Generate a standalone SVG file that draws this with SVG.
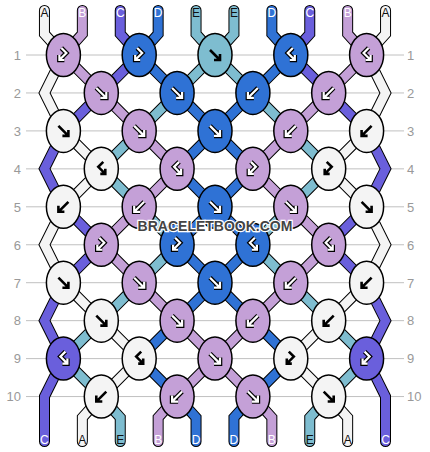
<svg xmlns="http://www.w3.org/2000/svg" xmlns:xlink="http://www.w3.org/1999/xlink" width="430" height="452" viewBox="0 0 430 452">
<style>
.grid line{stroke:#c0c0c0;stroke-width:1}
.rl{font-family:"Liberation Sans",Arial,sans-serif;font-size:13px;fill:#999}
.sl{font-family:"Liberation Sans",Arial,sans-serif;font-size:12px;text-anchor:middle}
.sl .w{fill:#fff}.sl .b{fill:#111}
.st{fill:none;stroke-linejoin:miter;stroke-linecap:round}
.o{stroke:#000;stroke-width:11}
.cA{stroke:#f4f4f4;stroke-width:9}.cB{stroke:#c4a0d7;stroke-width:9}.cC{stroke:#6a5fdc;stroke-width:9}.cD{stroke:#2f72d5;stroke-width:9}.cE{stroke:#7ebdd0;stroke-width:9}
.k{stroke:#000;stroke-width:1.5}
.kA{fill:#f4f4f4}.kB{fill:#c4a0d7}.kC{fill:#6a5fdc}.kD{fill:#2f72d5}.kE{fill:#7ebdd0}
.a1{fill:none;stroke:#000;stroke-width:4.6;stroke-linejoin:miter}
.a2{fill:none;stroke:#fff;stroke-width:2.2;stroke-linejoin:miter}
.ab{fill:none;stroke:#000;stroke-width:2.6;stroke-linejoin:miter}
.wm{font-family:"Liberation Sans",Arial,sans-serif;font-size:14px;font-weight:bold;fill:#444;stroke:#fff;stroke-width:2.5;paint-order:stroke;text-anchor:middle}
</style>
<defs>
<path id="pF" d="M-5,-5L5,5M-1,5H5V-1"/>
<path id="pB" d="M5,-5L-5,5M1,5H-5V-1"/>
<path id="pL" d="M2,-7L-3,-2L4,5M-1,5H4V0"/>
<path id="pR" d="M-2,-7L3,-2L-4,5M1,5H-4V0"/>
<g id="wF"><use href="#pF" class="a1"/><use href="#pF" class="a2"/></g>
<g id="wB"><use href="#pB" class="a1"/><use href="#pB" class="a2"/></g>
<g id="wL"><use href="#pL" class="a1"/><use href="#pL" class="a2"/></g>
<g id="wR"><use href="#pR" class="a1"/><use href="#pR" class="a2"/></g>
<use id="bF" href="#pF" class="ab"/>
<use id="bB" href="#pB" class="ab"/>
<use id="bL" href="#pL" class="ab"/>
<use id="bR" href="#pR" class="ab"/>
<path id="sA1" d="M44.45,10.5V34L63.4,55L44.5,92.95L63.4,130.9L101.3,168.85L63.4,206.8L44.5,244.75L63.4,282.7L101.3,320.65L139.2,358.6L101.3,396.55L82.35,417.5V441.5"/>
<path id="sB1" d="M82.35,10.5V34L63.4,55L101.3,92.95L139.2,130.9L177.1,168.85L139.2,206.8L101.3,244.75L139.2,282.7L177.1,320.65L215,358.6L252.9,396.55L271.85,417.5V441.5"/>
<path id="sC1" d="M120.25,10.5V34L139.2,55L101.3,92.95L63.4,130.9L44.5,168.85L63.4,206.8L101.3,244.75L63.4,282.7L44.5,320.65L63.4,358.6L44.5,396.55V441.5"/>
<path id="sD1" d="M158.15,10.5V34L139.2,55L177.1,92.95L215,130.9L252.9,168.85L215,206.8L177.1,244.75L215,282.7L252.9,320.65L290.8,358.6L252.9,396.55L233.95,417.5V441.5"/>
<path id="sE1" d="M196.05,10.5V34L215,55L252.9,92.95L290.8,130.9L328.7,168.85L290.8,206.8L252.9,244.75L290.8,282.7L328.7,320.65L366.6,358.6L328.7,396.55L309.75,417.5V441.5"/>
<path id="sE2" d="M233.95,10.5V34L215,55L177.1,92.95L139.2,130.9L101.3,168.85L139.2,206.8L177.1,244.75L139.2,282.7L101.3,320.65L63.4,358.6L101.3,396.55L120.25,417.5V441.5"/>
<path id="sD2" d="M271.85,10.5V34L290.8,55L252.9,92.95L215,130.9L177.1,168.85L215,206.8L252.9,244.75L215,282.7L177.1,320.65L139.2,358.6L177.1,396.55L196.05,417.5V441.5"/>
<path id="sC2" d="M309.75,10.5V34L290.8,55L328.7,92.95L366.6,130.9L385.5,168.85L366.6,206.8L328.7,244.75L366.6,282.7L385.5,320.65L366.6,358.6L385.5,396.55V441.5"/>
<path id="sB2" d="M347.65,10.5V34L366.6,55L328.7,92.95L290.8,130.9L252.9,168.85L290.8,206.8L328.7,244.75L290.8,282.7L252.9,320.65L215,358.6L177.1,396.55L158.15,417.5V441.5"/>
<path id="sA2" d="M385.55,10.5V34L366.6,55L385.5,92.95L366.6,130.9L328.7,168.85L366.6,206.8L385.5,244.75L366.6,282.7L328.7,320.65L290.8,358.6L328.7,396.55L347.65,417.5V441.5"/>
</defs>
<rect width="430" height="452" fill="#fff"/>
<g class="grid">
<line x1="26" y1="55" x2="404" y2="55"/>
<line x1="26" y1="92.95" x2="404" y2="92.95"/>
<line x1="26" y1="130.9" x2="404" y2="130.9"/>
<line x1="26" y1="168.85" x2="404" y2="168.85"/>
<line x1="26" y1="206.8" x2="404" y2="206.8"/>
<line x1="26" y1="244.75" x2="404" y2="244.75"/>
<line x1="26" y1="282.7" x2="404" y2="282.7"/>
<line x1="26" y1="320.65" x2="404" y2="320.65"/>
<line x1="26" y1="358.6" x2="404" y2="358.6"/>
<line x1="26" y1="396.55" x2="404" y2="396.55"/>
</g>
<g class="rl" text-anchor="end">
<text x="21" y="59.5">1</text><text x="21" y="97.5">2</text><text x="21" y="135.5">3</text><text x="21" y="173.5">4</text><text x="21" y="211.5">5</text><text x="21" y="249.5">6</text><text x="21" y="287.5">7</text><text x="21" y="325">8</text><text x="21" y="363">9</text><text x="21" y="401">10</text>
</g>
<g class="rl" text-anchor="start">
<text x="407" y="59.5">1</text><text x="407" y="97.5">2</text><text x="407" y="135.5">3</text><text x="407" y="173.5">4</text><text x="407" y="211.5">5</text><text x="407" y="249.5">6</text><text x="407" y="287.5">7</text><text x="407" y="325">8</text><text x="407" y="363">9</text><text x="407" y="401">10</text>
</g>
<g id="connectors" class="st">
<use href="#sA1" class="o"/><use href="#sB1" class="o"/><use href="#sC1" class="o"/><use href="#sD1" class="o"/><use href="#sE1" class="o"/>
<use href="#sE2" class="o"/><use href="#sD2" class="o"/><use href="#sC2" class="o"/><use href="#sB2" class="o"/><use href="#sA2" class="o"/>
<use href="#sA1" class="cA"/><use href="#sB1" class="cB"/><use href="#sC1" class="cC"/><use href="#sD1" class="cD"/><use href="#sE1" class="cE"/>
<use href="#sE2" class="cE"/><use href="#sD2" class="cD"/><use href="#sC2" class="cC"/><use href="#sB2" class="cB"/><use href="#sA2" class="cA"/>
</g>
<g class="sl">
<text x="44.45" y="16.5" class="b">A</text><text x="82.35" y="16.5" class="w">B</text><text x="120.25" y="16.5" class="w">C</text><text x="158.15" y="16.5" class="w">D</text><text x="196.05" y="16.5" class="b">E</text>
<text x="233.95" y="16.5" class="b">E</text><text x="271.85" y="16.5" class="w">D</text><text x="309.75" y="16.5" class="w">C</text><text x="347.65" y="16.5" class="w">B</text><text x="385.55" y="16.5" class="b">A</text>
<text x="44.45" y="444" class="w">C</text><text x="82.35" y="444" class="b">A</text><text x="120.25" y="444" class="b">E</text><text x="158.15" y="444" class="w">B</text><text x="196.05" y="444" class="w">D</text>
<text x="233.95" y="444" class="w">D</text><text x="271.85" y="444" class="w">B</text><text x="309.75" y="444" class="b">E</text><text x="347.65" y="444" class="b">A</text><text x="385.55" y="444" class="w">C</text>
</g>
<g id="k1-1" transform="translate(63.4,55)"><ellipse class="k kB" rx="17" ry="21.5"/><use href="#wR"/></g>
<g id="k1-2" transform="translate(139.2,55)"><ellipse class="k kD" rx="17" ry="21.5"/><use href="#wR"/></g>
<g id="k1-3" transform="translate(215,55)"><ellipse class="k kE" rx="17" ry="21.5"/><use href="#bF"/></g>
<g id="k1-4" transform="translate(290.8,55)"><ellipse class="k kD" rx="17" ry="21.5"/><use href="#wL"/></g>
<g id="k1-5" transform="translate(366.6,55)"><ellipse class="k kB" rx="17" ry="21.5"/><use href="#wL"/></g>
<g id="k2-1" transform="translate(101.3,92.95)"><ellipse class="k kB" rx="17" ry="21.5"/><use href="#wF"/></g>
<g id="k2-2" transform="translate(177.1,92.95)"><ellipse class="k kD" rx="17" ry="21.5"/><use href="#wF"/></g>
<g id="k2-3" transform="translate(252.9,92.95)"><ellipse class="k kD" rx="17" ry="21.5"/><use href="#wB"/></g>
<g id="k2-4" transform="translate(328.7,92.95)"><ellipse class="k kB" rx="17" ry="21.5"/><use href="#wB"/></g>
<g id="k3-1" transform="translate(63.4,130.9)"><ellipse class="k kA" rx="17" ry="21.5"/><use href="#bF"/></g>
<g id="k3-2" transform="translate(139.2,130.9)"><ellipse class="k kB" rx="17" ry="21.5"/><use href="#wF"/></g>
<g id="k3-3" transform="translate(215,130.9)"><ellipse class="k kD" rx="17" ry="21.5"/><use href="#wF"/></g>
<g id="k3-4" transform="translate(290.8,130.9)"><ellipse class="k kB" rx="17" ry="21.5"/><use href="#wB"/></g>
<g id="k3-5" transform="translate(366.6,130.9)"><ellipse class="k kA" rx="17" ry="21.5"/><use href="#bB"/></g>
<g id="k4-1" transform="translate(101.3,168.85)"><ellipse class="k kA" rx="17" ry="21.5"/><use href="#bL"/></g>
<g id="k4-2" transform="translate(177.1,168.85)"><ellipse class="k kB" rx="17" ry="21.5"/><use href="#wL"/></g>
<g id="k4-3" transform="translate(252.9,168.85)"><ellipse class="k kB" rx="17" ry="21.5"/><use href="#wR"/></g>
<g id="k4-4" transform="translate(328.7,168.85)"><ellipse class="k kA" rx="17" ry="21.5"/><use href="#bR"/></g>
<g id="k5-1" transform="translate(63.4,206.8)"><ellipse class="k kA" rx="17" ry="21.5"/><use href="#bB"/></g>
<g id="k5-2" transform="translate(139.2,206.8)"><ellipse class="k kB" rx="17" ry="21.5"/><use href="#wB"/></g>
<g id="k5-3" transform="translate(215,206.8)"><ellipse class="k kD" rx="17" ry="21.5"/><use href="#wF"/></g>
<g id="k5-4" transform="translate(290.8,206.8)"><ellipse class="k kB" rx="17" ry="21.5"/><use href="#wF"/></g>
<g id="k5-5" transform="translate(366.6,206.8)"><ellipse class="k kA" rx="17" ry="21.5"/><use href="#bF"/></g>
<g id="k6-1" transform="translate(101.3,244.75)"><ellipse class="k kB" rx="17" ry="21.5"/><use href="#wR"/></g>
<g id="k6-2" transform="translate(177.1,244.75)"><ellipse class="k kD" rx="17" ry="21.5"/><use href="#wR"/></g>
<g id="k6-3" transform="translate(252.9,244.75)"><ellipse class="k kD" rx="17" ry="21.5"/><use href="#wL"/></g>
<g id="k6-4" transform="translate(328.7,244.75)"><ellipse class="k kB" rx="17" ry="21.5"/><use href="#wL"/></g>
<g id="k7-1" transform="translate(63.4,282.7)"><ellipse class="k kA" rx="17" ry="21.5"/><use href="#bF"/></g>
<g id="k7-2" transform="translate(139.2,282.7)"><ellipse class="k kB" rx="17" ry="21.5"/><use href="#wF"/></g>
<g id="k7-3" transform="translate(215,282.7)"><ellipse class="k kD" rx="17" ry="21.5"/><use href="#wF"/></g>
<g id="k7-4" transform="translate(290.8,282.7)"><ellipse class="k kB" rx="17" ry="21.5"/><use href="#wB"/></g>
<g id="k7-5" transform="translate(366.6,282.7)"><ellipse class="k kA" rx="17" ry="21.5"/><use href="#bB"/></g>
<g id="k8-1" transform="translate(101.3,320.65)"><ellipse class="k kA" rx="17" ry="21.5"/><use href="#bF"/></g>
<g id="k8-2" transform="translate(177.1,320.65)"><ellipse class="k kB" rx="17" ry="21.5"/><use href="#wF"/></g>
<g id="k8-3" transform="translate(252.9,320.65)"><ellipse class="k kB" rx="17" ry="21.5"/><use href="#wB"/></g>
<g id="k8-4" transform="translate(328.7,320.65)"><ellipse class="k kA" rx="17" ry="21.5"/><use href="#bB"/></g>
<g id="k9-1" transform="translate(63.4,358.6)"><ellipse class="k kC" rx="17" ry="21.5"/><use href="#wL"/></g>
<g id="k9-2" transform="translate(139.2,358.6)"><ellipse class="k kA" rx="17" ry="21.5"/><use href="#bL"/></g>
<g id="k9-3" transform="translate(215,358.6)"><ellipse class="k kB" rx="17" ry="21.5"/><use href="#wF"/></g>
<g id="k9-4" transform="translate(290.8,358.6)"><ellipse class="k kA" rx="17" ry="21.5"/><use href="#bR"/></g>
<g id="k9-5" transform="translate(366.6,358.6)"><ellipse class="k kC" rx="17" ry="21.5"/><use href="#wR"/></g>
<g id="k10-1" transform="translate(101.3,396.55)"><ellipse class="k kA" rx="17" ry="21.5"/><use href="#bB"/></g>
<g id="k10-2" transform="translate(177.1,396.55)"><ellipse class="k kB" rx="17" ry="21.5"/><use href="#wB"/></g>
<g id="k10-3" transform="translate(252.9,396.55)"><ellipse class="k kB" rx="17" ry="21.5"/><use href="#wF"/></g>
<g id="k10-4" transform="translate(328.7,396.55)"><ellipse class="k kA" rx="17" ry="21.5"/><use href="#bF"/></g>
<text class="wm" x="215" y="231">BRACELETBOOK.COM</text>
</svg>
